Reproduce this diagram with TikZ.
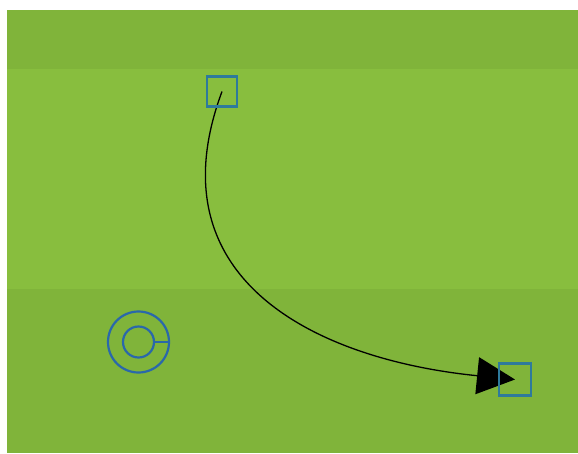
\documentclass[tikz,border=0pt]{standalone}
\usetikzlibrary{arrows.meta}
\definecolor{banddark}{HTML}{80B43A}
\definecolor{bandlight}{HTML}{88BE3E}
\definecolor{sqblue}{HTML}{2E7A9C}
\definecolor{circblue}{HTML}{2A68AA}
\pgfdeclarelayer{bg}
\pgfdeclarelayer{mid}
\pgfsetlayers{bg,mid,main}
\tikzset{
  band/.style={fill=#1, draw=none},
  sqnode/.style={draw=sqblue, line width=2.6pt, fill=none, minimum size=#1, inner sep=0pt, rectangle},
  ringnode/.style={draw=circblue, line width=2.2pt, circle, minimum size=#1, inner sep=0pt},
  flow/.style={draw=black, line width=1.3pt, -{Triangle[length=38pt,width=37pt]}}
}
\begin{document}
\begin{tikzpicture}[x=1pt,y=-1pt]
\useasboundingbox (0,0) rectangle (578,453);
\begin{pgfonlayer}{bg}
\fill[white] (0,0) rectangle (578,453);
\fill[band=banddark] (7,10) rectangle (578,69);
\fill[band=bandlight] (7,69) rectangle (578,289);
\fill[band=banddark] (7,289) rectangle (578,453);
\end{pgfonlayer}
\node[sqnode=30pt] (a) at (222,91.5) {};
\node[sqnode=32pt] (b) at (515,379.5) {};
\node[ringnode=61pt] (r) at (138.5,342) {};
\node[ringnode=31pt] (ri) at (r.center) {};
\draw[circblue, line width=2.2pt] (ri.east) -- (r.east);
\begin{pgfonlayer}{mid}
\draw[flow] (a.center) .. controls +(-70,188) and +(-199,-20) .. (b.center);
\end{pgfonlayer}
\end{tikzpicture}
\end{document}
